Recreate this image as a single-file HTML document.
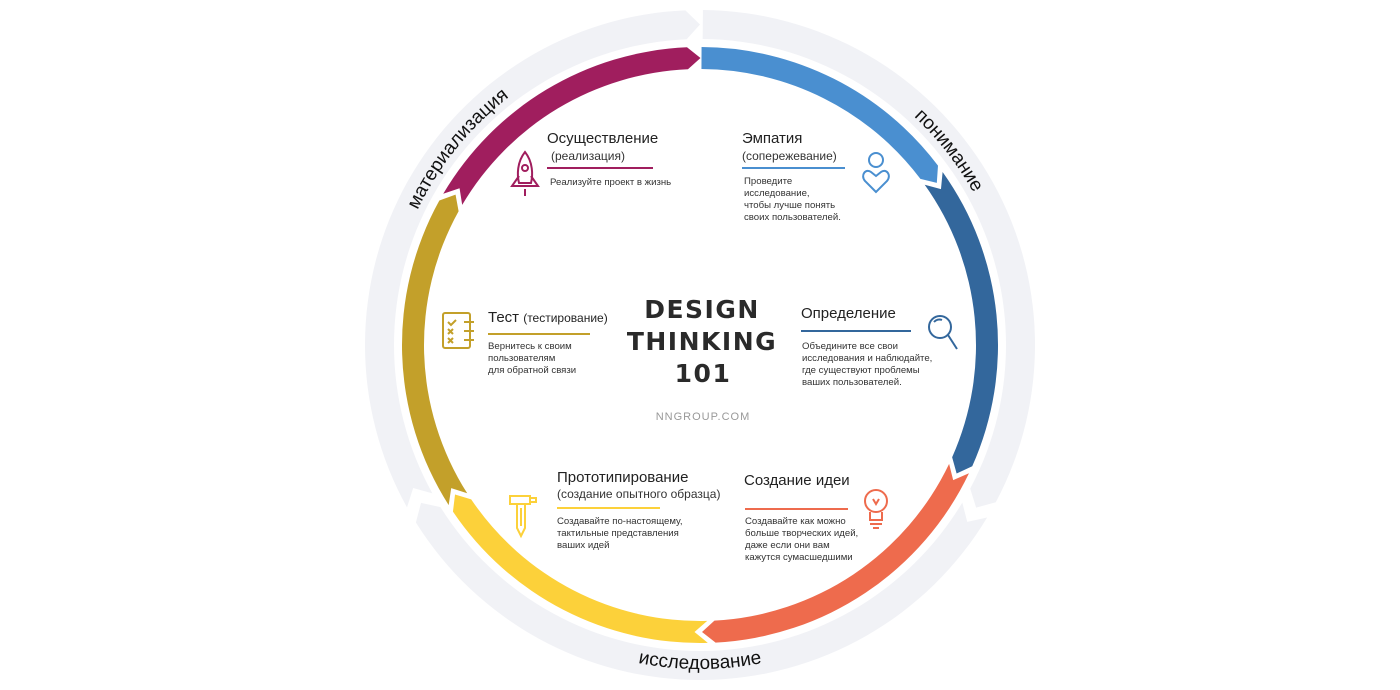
<!DOCTYPE html>
<html><head><meta charset="utf-8">
<style>
html,body{margin:0;padding:0;background:#fff;}
body{width:1400px;height:690px;overflow:hidden;position:relative;font-family:"Liberation Sans",sans-serif;}
.t{position:absolute;white-space:nowrap;color:#222;}
.h{font-size:15px;}
.s{font-size:12px;color:#333;}
.d{font-size:9.6px;line-height:12px;color:#333;}
.ln{position:absolute;height:2px;}
svg{position:absolute;left:0;top:0;}
</style></head><body>
<svg width="1400" height="690" viewBox="0 0 1400 690">
<g id="gray" fill="#F1F2F6"></g>
<g id="col"></g>
<defs>
<path id="p1" d=""/><path id="p2" d=""/><path id="p3" d=""/>
</defs>
<text font-family="Liberation Sans, sans-serif" font-size="19" fill="#111"><textPath href="#p1" startOffset="50%" text-anchor="middle">понимание</textPath></text>
<text font-family="Liberation Sans, sans-serif" font-size="19" fill="#111"><textPath href="#p2" startOffset="50%" text-anchor="middle">исследование</textPath></text>
<text font-family="Liberation Sans, sans-serif" font-size="19" fill="#111"><textPath href="#p3" startOffset="50%" text-anchor="middle">материализация</textPath></text>
<text x="702" y="318" text-anchor="middle" font-family="DejaVu Sans, sans-serif" font-weight="bold" font-size="25" letter-spacing="1.5" fill="#2a2a2a">DESIGN</text>
<text x="702" y="350" text-anchor="middle" font-family="DejaVu Sans, sans-serif" font-weight="bold" font-size="25" letter-spacing="1.5" fill="#2a2a2a">THINKING</text>
<text x="703" y="382" text-anchor="middle" font-family="DejaVu Sans, sans-serif" font-weight="bold" font-size="25" letter-spacing="1.5" fill="#2a2a2a">101</text>
<text x="703" y="420" text-anchor="middle" font-family="Liberation Sans, sans-serif" font-size="11" letter-spacing="1" fill="#999">NNGROUP.COM</text>
<g fill="none" stroke-width="2">
 <g stroke="#A01E5E"><path d="M525 152 C517 162 517 175 519 183 L531 183 C533 175 533 162 525 152 Z"/><circle cx="525" cy="168" r="3"/><path d="M519 176 L512 186 L538 186 L531 176"/><path d="M525 189 L525 196"/></g>
 <g stroke="#4A8FD0"><circle cx="876" cy="160" r="7"/><path d="M876 192 L865 181 C860 175 866 168 871 172 L876 176 L881 172 C886 168 892 175 887 181 Z"/></g>
 <g stroke="#C3A02A"><rect x="443" y="313" width="27" height="35" rx="2"/><path d="M464 322 H474 M464 331 H474 M464 340 H474"/><path d="M448 322 l3 3 l5 -5 M448 329 l5 5 M453 329 l-5 5 M448 338 l5 5 M453 338 l-5 5"/></g>
 <g stroke="#33679C"><circle cx="940" cy="327" r="11"/><path d="M948 335 L957 349"/><path d="M934 322 a7 7 0 0 1 8 -2"/></g>
 <g stroke="#FCD13A"><path d="M510 496 H530 V504 H510 Z M530 498 H536 V502 H530"/><path d="M517 504 V528 L521 536 L525 528 V504"/><path d="M521 508 V526"/></g>
 <g stroke="#EE6B4D"><circle cx="876" cy="501" r="11"/><path d="M870 512 V520 H882 V512 M870 524 H882 M873 528 H879"/><path d="M873 499 l3 5 l3 -5"/></g>
</g>
</svg>

<div class="t h" style="left:547px;top:130px;">Осуществление</div>
<div class="t s" style="left:551px;top:149px;">(реализация)</div>
<div class="ln" style="left:547px;top:167px;width:106px;background:#A01E5E"></div>
<div class="t d" style="left:550px;top:177px;">Реализуйте проект в жизнь</div>

<div class="t h" style="left:742px;top:130px;">Эмпатия</div>
<div class="t s" style="left:742px;top:149px;">(сопережевание)</div>
<div class="ln" style="left:742px;top:167px;width:103px;background:#4A8FD0"></div>
<div class="t d" style="left:744px;top:176px;">Проведите<br>исследование,<br>чтобы лучше понять<br>своих пользователей.</div>

<div class="t h" style="left:488px;top:309px;">Тест <span style="font-size:12px">(тестирование)</span></div>
<div class="ln" style="left:488px;top:333px;width:102px;background:#C3A02A"></div>
<div class="t d" style="left:488px;top:341px;">Вернитесь к своим<br>пользователям<br>для обратной связи</div>

<div class="t h" style="left:801px;top:305px;">Определение</div>
<div class="ln" style="left:801px;top:330px;width:110px;background:#33679C"></div>
<div class="t d" style="left:802px;top:341px;">Объедините все свои<br>исследования и наблюдайте,<br>где существуют проблемы<br>ваших пользователей.</div>

<div class="t h" style="left:557px;top:469px;">Прототипирование</div>
<div class="t s" style="left:557px;top:487px;">(создание опытного образца)</div>
<div class="ln" style="left:557px;top:507px;width:103px;background:#FCD13A"></div>
<div class="t d" style="left:557px;top:516px;">Создавайте по-настоящему,<br>тактильные представления<br>ваших идей</div>

<div class="t h" style="left:744px;top:472px;">Создание идеи</div>
<div class="ln" style="left:745px;top:508px;width:103px;background:#EE6B4D"></div>
<div class="t d" style="left:745px;top:516px;">Создавайте как можно<br>больше творческих идей,<br>даже если они вам<br>кажутся сумасшедшими</div>

<script>
var cx=700,cy=345;
function P(r,a){a=a*Math.PI/180;return (cx+r*Math.sin(a)).toFixed(2)+' '+(cy-r*Math.cos(a)).toFixed(2);}
function seg(r1,r2,a0,a1,t,notch){
 var rm=(r1+r2)/2, lg=(a1-a0)>180?1:0;
 var d='M'+P(r2,a0)+' A'+r2+' '+r2+' 0 '+lg+' 1 '+P(r2,a1)+' L'+P(rm,a1+t)+' L'+P(r1,a1)+' A'+r1+' '+r1+' 0 '+lg+' 0 '+P(r1,a0);
 if(notch) d+=' L'+P(rm,a0+t);
 return d+' Z';
}
var ns='http://www.w3.org/2000/svg';
var g=document.getElementById('gray');
[[0.5,118,false],[121,238,true],[241,357.5,true]].forEach(function(s){var p=document.createElementNS(ns,'path');p.setAttribute('d',seg(306,335,s[0],s[1],2.5,s[2]));g.appendChild(p);});
var c=document.getElementById('col');
[[0.3,53,'#4A8FD0',false],[54.5,114,'#33679C',true],[115.5,177,'#EE6B4D',true],[178.5,236,'#FCD13A',true],[237.5,299,'#C3A02A',true],[300.5,357.5,'#A01E5E',true]].forEach(function(s){var p=document.createElementNS(ns,'path');p.setAttribute('d',seg(276,298,s[0],s[1],2.6,s[3]));p.setAttribute('fill',s[2]);c.appendChild(p);});
function arcCW(r,a0,a1){return 'M'+P(r,a0)+' A'+r+' '+r+' 0 0 1 '+P(r,a1);}
function arcCCW(r,a0,a1){return 'M'+P(r,a0)+' A'+r+' '+r+' 0 0 0 '+P(r,a1);}
document.getElementById('p1').setAttribute('d',arcCW(313,12,92));
document.getElementById('p2').setAttribute('d',arcCCW(324,220,140));
document.getElementById('p3').setAttribute('d',arcCW(313,269,349));
</script>
</body></html>
